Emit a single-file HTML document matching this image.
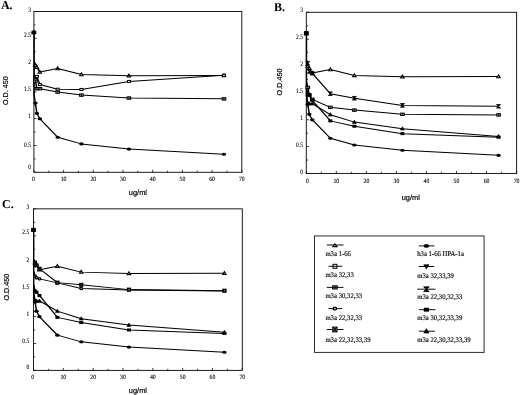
<!DOCTYPE html>
<html lang="en"><head><meta charset="utf-8"><title>Figure</title>
<style>
html,body{margin:0;padding:0;background:#fff;}
body{width:520px;height:395px;overflow:hidden;}
svg{display:block;filter:blur(0.3px);}
text{text-rendering:geometricPrecision;}
.tk{font-family:"Liberation Serif","Times New Roman",serif;font-size:5.9px;fill:#000;stroke:#000;stroke-width:0.12px;}
.ty{font-size:6.8px;}
.tx{font-size:6.5px;}
.let{font-family:"Liberation Serif","Times New Roman",serif;font-weight:bold;font-size:12px;fill:#000;}
.od{font-family:"Liberation Sans",Arial,sans-serif;font-size:7.2px;fill:#000;stroke:#000;stroke-width:0.2px;}
.ug{font-family:"Liberation Sans",Arial,sans-serif;font-size:7.4px;fill:#000;stroke:#000;stroke-width:0.2px;}
.lg{font-family:"Liberation Serif","Times New Roman",serif;font-size:7.1px;fill:#000;stroke:#000;stroke-width:0.15px;}
</style></head><body>
<svg width="520" height="395" viewBox="0 0 520 395">
<rect width="520" height="395" fill="#fff"/>
<g>
<rect x="33.90" y="11.50" width="207.90" height="160.80" fill="none" stroke="#111" stroke-width="0.95"/>
<path d="M33.90 172.30v-2.5M48.75 172.30v-1.6M63.60 172.30v-2.5M78.45 172.30v-1.6M93.30 172.30v-2.5M108.15 172.30v-1.6M123.00 172.30v-2.5M137.85 172.30v-1.6M152.70 172.30v-2.5M167.55 172.30v-1.6M182.40 172.30v-2.5M197.25 172.30v-1.6M212.10 172.30v-2.5M226.95 172.30v-1.6M241.80 172.30v-2.5M33.90 172.30h2.7M33.90 158.90h1.7M33.90 145.50h2.7M33.90 132.10h1.7M33.90 118.70h2.7M33.90 105.30h1.7M33.90 91.90h2.7M33.90 78.50h1.7M33.90 65.10h2.7M33.90 51.70h1.7M33.90 38.30h2.7M33.90 24.90h1.7M33.90 11.50h2.7" stroke="#111" stroke-width="0.8" fill="none"/>
<text transform="translate(33.50,181.30) scale(0.9,1)" class="tk tx" text-anchor="middle">0</text>
<text transform="translate(63.60,181.30) scale(0.9,1)" class="tk tx" text-anchor="middle">10</text>
<text transform="translate(93.30,181.30) scale(0.9,1)" class="tk tx" text-anchor="middle">20</text>
<text transform="translate(123.00,181.30) scale(0.9,1)" class="tk tx" text-anchor="middle">30</text>
<text transform="translate(152.70,181.30) scale(0.9,1)" class="tk tx" text-anchor="middle">40</text>
<text transform="translate(182.40,181.30) scale(0.9,1)" class="tk tx" text-anchor="middle">50</text>
<text transform="translate(212.10,181.30) scale(0.9,1)" class="tk tx" text-anchor="middle">60</text>
<text transform="translate(241.80,181.30) scale(0.9,1)" class="tk tx" text-anchor="middle">70</text>
<text transform="translate(30.90,168.70) scale(0.81,1)" class="tk ty" text-anchor="end">0</text>
<text transform="translate(30.90,147.10) scale(0.81,1)" class="tk ty" text-anchor="end">0.5</text>
<text transform="translate(30.90,117.90) scale(0.81,1)" class="tk ty" text-anchor="end">1</text>
<text transform="translate(30.90,91.40) scale(0.81,1)" class="tk ty" text-anchor="end">1.5</text>
<text transform="translate(30.90,64.20) scale(0.81,1)" class="tk ty" text-anchor="end">2</text>
<text transform="translate(30.90,37.30) scale(0.81,1)" class="tk ty" text-anchor="end">2.5</text>
<text transform="translate(30.90,11.70) scale(0.81,1)" class="tk ty" text-anchor="end">3</text>
<g transform="scale(1,0.7)" fill="none" stroke="#000" stroke-width="1.429" stroke-linejoin="round">
<path d="M34.20 88.33L35.38 93.00L36.87 96.06L39.84 102.95L57.66 97.98L81.42 106.40L128.94 108.31L223.98 107.93"/>
<path d="M34.20 106.94L35.38 113.67L36.87 109.08L39.84 120.80L57.66 127.46L81.42 127.76L128.94 116.35L223.98 107.55"/>
<path d="M34.20 109.00L35.38 115.97L36.87 126.69L39.84 126.69L57.66 131.52L81.42 135.88L128.94 140.09L223.98 141.24"/>
<path d="M34.20 136.98L35.38 147.06L36.87 161.91L39.84 169.72L57.66 195.99L81.42 205.56L128.94 212.99L223.98 220.34"/>
</g>
<path d="M34.10 32.40V95.89" stroke="#000" stroke-width="1.45" fill="none"/>
<path d="M32.20 33.60L35.60 33.60L33.90 30.70Z" fill="#ccc" stroke="#000" stroke-width="1.1" stroke-linejoin="miter"/>
<path d="M33.68 66.30L37.09 66.30L35.38 63.40Z" fill="#ccc" stroke="#000" stroke-width="1.1" stroke-linejoin="miter"/>
<path d="M35.17 68.44L38.57 68.44L36.87 65.54Z" fill="#ccc" stroke="#000" stroke-width="1.1" stroke-linejoin="miter"/>
<path d="M38.14 73.27L41.54 73.27L39.84 70.37Z" fill="#ccc" stroke="#000" stroke-width="1.1" stroke-linejoin="miter"/>
<path d="M55.96 69.78L59.36 69.78L57.66 66.88Z" fill="#ccc" stroke="#000" stroke-width="1.1" stroke-linejoin="miter"/>
<path d="M79.72 75.68L83.12 75.68L81.42 72.78Z" fill="#ccc" stroke="#000" stroke-width="1.1" stroke-linejoin="miter"/>
<path d="M127.24 77.02L130.64 77.02L128.94 74.12Z" fill="#ccc" stroke="#000" stroke-width="1.1" stroke-linejoin="miter"/>
<path d="M222.28 76.75L225.68 76.75L223.98 73.85Z" fill="#ccc" stroke="#000" stroke-width="1.1" stroke-linejoin="miter"/>
<rect x="32.40" y="31.40" width="3.00" height="2.00" fill="#fff" stroke="#000" stroke-width="1.0"/>
<rect x="33.88" y="78.57" width="3.00" height="2.00" fill="#fff" stroke="#000" stroke-width="1.0"/>
<rect x="35.37" y="75.36" width="3.00" height="2.00" fill="#fff" stroke="#000" stroke-width="1.0"/>
<rect x="38.34" y="83.56" width="3.00" height="2.00" fill="#fff" stroke="#000" stroke-width="1.0"/>
<rect x="56.16" y="88.22" width="3.00" height="2.00" fill="#fff" stroke="#000" stroke-width="1.0"/>
<rect x="79.92" y="88.43" width="3.00" height="2.00" fill="#fff" stroke="#000" stroke-width="1.0"/>
<rect x="127.44" y="80.45" width="3.00" height="2.00" fill="#fff" stroke="#000" stroke-width="1.0"/>
<rect x="222.48" y="74.28" width="3.00" height="2.00" fill="#fff" stroke="#000" stroke-width="1.0"/>
<rect x="32.10" y="31.20" width="3.60" height="2.40" fill="#aaa" stroke="#000" stroke-width="1.0"/><path d="M33.90 31.20L33.90 33.60" stroke="#000" stroke-width="0.9" fill="none"/>
<rect x="33.59" y="79.98" width="3.60" height="2.40" fill="#aaa" stroke="#000" stroke-width="1.0"/><path d="M35.38 79.98L35.38 82.38" stroke="#000" stroke-width="0.9" fill="none"/>
<rect x="35.07" y="87.48" width="3.60" height="2.40" fill="#aaa" stroke="#000" stroke-width="1.0"/><path d="M36.87 87.48L36.87 89.88" stroke="#000" stroke-width="0.9" fill="none"/>
<rect x="38.04" y="87.48" width="3.60" height="2.40" fill="#aaa" stroke="#000" stroke-width="1.0"/><path d="M39.84 87.48L39.84 89.88" stroke="#000" stroke-width="0.9" fill="none"/>
<rect x="55.86" y="90.86" width="3.60" height="2.40" fill="#aaa" stroke="#000" stroke-width="1.0"/><path d="M57.66 90.86L57.66 93.26" stroke="#000" stroke-width="0.9" fill="none"/>
<rect x="79.62" y="93.92" width="3.60" height="2.40" fill="#aaa" stroke="#000" stroke-width="1.0"/><path d="M81.42 93.92L81.42 96.32" stroke="#000" stroke-width="0.9" fill="none"/>
<rect x="127.14" y="96.86" width="3.60" height="2.40" fill="#aaa" stroke="#000" stroke-width="1.0"/><path d="M128.94 96.86L128.94 99.26" stroke="#000" stroke-width="0.9" fill="none"/>
<rect x="222.18" y="97.67" width="3.60" height="2.40" fill="#aaa" stroke="#000" stroke-width="1.0"/><path d="M223.98 97.67L223.98 100.07" stroke="#000" stroke-width="0.9" fill="none"/>
<ellipse cx="33.90" cy="32.40" rx="2.25" ry="1.55" fill="#000"/>
<ellipse cx="35.38" cy="102.94" rx="2.25" ry="1.55" fill="#000"/>
<ellipse cx="36.87" cy="113.34" rx="2.25" ry="1.55" fill="#000"/>
<ellipse cx="39.84" cy="118.81" rx="2.25" ry="1.55" fill="#000"/>
<ellipse cx="57.66" cy="137.19" rx="2.25" ry="1.55" fill="#000"/>
<ellipse cx="81.42" cy="143.89" rx="2.25" ry="1.55" fill="#000"/>
<ellipse cx="128.94" cy="149.09" rx="2.25" ry="1.55" fill="#000"/>
<ellipse cx="223.98" cy="154.24" rx="2.25" ry="1.55" fill="#000"/>
<text x="0.9" y="8.5" class="let">A.</text>
<text transform="translate(8.2,90.7) rotate(-90)" class="od" text-anchor="middle">O.D. 450</text>
<text x="137.9" y="195.4" class="ug" text-anchor="middle">ug/ml</text>
</g>
<g>
<rect x="306.30" y="12.30" width="210.30" height="161.15" fill="none" stroke="#111" stroke-width="0.95"/>
<path d="M306.30 173.45v-2.5M321.32 173.45v-1.6M336.34 173.45v-2.5M351.36 173.45v-1.6M366.39 173.45v-2.5M381.41 173.45v-1.6M396.43 173.45v-2.5M411.45 173.45v-1.6M426.47 173.45v-2.5M441.49 173.45v-1.6M456.51 173.45v-2.5M471.54 173.45v-1.6M486.56 173.45v-2.5M501.58 173.45v-1.6M516.60 173.45v-2.5M306.30 173.45h2.7M306.30 160.02h1.7M306.30 146.59h2.7M306.30 133.16h1.7M306.30 119.73h2.7M306.30 106.30h1.7M306.30 92.88h2.7M306.30 79.45h1.7M306.30 66.02h2.7M306.30 52.59h1.7M306.30 39.16h2.7M306.30 25.73h1.7M306.30 12.30h2.7" stroke="#111" stroke-width="0.8" fill="none"/>
<text transform="translate(307.40,183.30) scale(0.9,1)" class="tk tx" text-anchor="middle">0</text>
<text transform="translate(336.34,183.30) scale(0.9,1)" class="tk tx" text-anchor="middle">10</text>
<text transform="translate(366.39,183.30) scale(0.9,1)" class="tk tx" text-anchor="middle">20</text>
<text transform="translate(396.43,183.30) scale(0.9,1)" class="tk tx" text-anchor="middle">30</text>
<text transform="translate(426.47,183.30) scale(0.9,1)" class="tk tx" text-anchor="middle">40</text>
<text transform="translate(456.51,183.30) scale(0.9,1)" class="tk tx" text-anchor="middle">50</text>
<text transform="translate(486.56,183.30) scale(0.9,1)" class="tk tx" text-anchor="middle">60</text>
<text transform="translate(516.60,183.30) scale(0.9,1)" class="tk tx" text-anchor="middle">70</text>
<text transform="translate(303.00,173.65) scale(0.81,1)" class="tk ty" text-anchor="end">0</text>
<text transform="translate(303.00,147.09) scale(0.81,1)" class="tk ty" text-anchor="end">0.5</text>
<text transform="translate(303.00,119.73) scale(0.81,1)" class="tk ty" text-anchor="end">1</text>
<text transform="translate(303.00,93.08) scale(0.81,1)" class="tk ty" text-anchor="end">1.5</text>
<text transform="translate(303.00,65.82) scale(0.81,1)" class="tk ty" text-anchor="end">2</text>
<text transform="translate(303.00,38.66) scale(0.81,1)" class="tk ty" text-anchor="end">2.5</text>
<text transform="translate(303.00,12.00) scale(0.81,1)" class="tk ty" text-anchor="end">3</text>
<g transform="scale(1,0.7)" fill="none" stroke="#000" stroke-width="1.429" stroke-linejoin="round">
<path d="M306.60 89.63L307.80 94.31L309.30 97.38L312.31 104.29L330.33 99.30L354.37 107.74L402.44 109.66L498.57 109.27"/>
<path d="M306.60 86.18L307.80 90.47L309.30 101.98L312.31 104.67L330.33 133.83L354.37 140.35L402.44 150.56L498.57 151.86"/>
<path d="M306.60 117.25L307.80 125.00L309.30 135.36L312.31 141.89L330.33 153.32L354.37 157.31L402.44 163.30L498.57 164.14"/>
<path d="M306.60 137.97L307.80 148.03L309.30 148.03L312.31 148.03L330.33 163.83L354.37 174.42L402.44 183.86L498.57 194.84"/>
<path d="M306.60 126.23L307.80 134.98L309.30 136.52L312.31 143.42L330.33 172.66L354.37 180.33L402.44 190.92L498.57 195.99"/>
<path d="M306.60 138.39L307.80 148.49L309.30 163.37L312.31 171.20L330.33 197.52L354.37 207.11L402.44 214.56L498.57 221.92"/>
</g>
<path d="M306.50 33.25V96.87" stroke="#000" stroke-width="1.45" fill="none"/>
<path d="M304.60 34.45L308.00 34.45L306.30 31.55Z" fill="#ccc" stroke="#000" stroke-width="1.1" stroke-linejoin="miter"/>
<path d="M306.10 67.22L309.50 67.22L307.80 64.32Z" fill="#ccc" stroke="#000" stroke-width="1.1" stroke-linejoin="miter"/>
<path d="M307.60 69.37L311.00 69.37L309.30 66.47Z" fill="#ccc" stroke="#000" stroke-width="1.1" stroke-linejoin="miter"/>
<path d="M310.61 74.20L314.01 74.20L312.31 71.30Z" fill="#ccc" stroke="#000" stroke-width="1.1" stroke-linejoin="miter"/>
<path d="M328.63 70.71L332.03 70.71L330.33 67.81Z" fill="#ccc" stroke="#000" stroke-width="1.1" stroke-linejoin="miter"/>
<path d="M352.67 76.62L356.07 76.62L354.37 73.72Z" fill="#ccc" stroke="#000" stroke-width="1.1" stroke-linejoin="miter"/>
<path d="M400.74 77.96L404.14 77.96L402.44 75.06Z" fill="#ccc" stroke="#000" stroke-width="1.1" stroke-linejoin="miter"/>
<path d="M496.87 77.69L500.27 77.69L498.57 74.79Z" fill="#ccc" stroke="#000" stroke-width="1.1" stroke-linejoin="miter"/>
<path d="M304.30 31.45L308.30 31.45L304.30 35.05L308.30 35.05Z" fill="#000" stroke="#000" stroke-width="0.8" stroke-linejoin="round"/>
<path d="M305.80 61.53L309.80 61.53L305.80 65.13L309.80 65.13Z" fill="#000" stroke="#000" stroke-width="0.8" stroke-linejoin="round"/>
<path d="M307.30 69.59L311.30 69.59L307.30 73.19L311.30 73.19Z" fill="#000" stroke="#000" stroke-width="0.8" stroke-linejoin="round"/>
<path d="M310.31 71.47L314.31 71.47L310.31 75.07L314.31 75.07Z" fill="#000" stroke="#000" stroke-width="0.8" stroke-linejoin="round"/>
<path d="M328.33 91.88L332.33 91.88L328.33 95.48L332.33 95.48Z" fill="#000" stroke="#000" stroke-width="0.8" stroke-linejoin="round"/>
<path d="M352.37 96.45L356.37 96.45L352.37 100.05L356.37 100.05Z" fill="#000" stroke="#000" stroke-width="0.8" stroke-linejoin="round"/>
<path d="M400.44 103.59L404.44 103.59L400.44 107.19L404.44 107.19Z" fill="#000" stroke="#000" stroke-width="0.8" stroke-linejoin="round"/>
<path d="M496.57 104.50L500.57 104.50L496.57 108.10L500.57 108.10Z" fill="#000" stroke="#000" stroke-width="0.8" stroke-linejoin="round"/>
<rect x="304.50" y="32.05" width="3.60" height="2.40" fill="#aaa" stroke="#000" stroke-width="1.0"/><path d="M306.30 32.05L306.30 34.45" stroke="#000" stroke-width="0.9" fill="none"/>
<rect x="306.00" y="86.30" width="3.60" height="2.40" fill="#aaa" stroke="#000" stroke-width="1.0"/><path d="M307.80 86.30L307.80 88.70" stroke="#000" stroke-width="0.9" fill="none"/>
<rect x="307.50" y="93.56" width="3.60" height="2.40" fill="#aaa" stroke="#000" stroke-width="1.0"/><path d="M309.30 93.56L309.30 95.96" stroke="#000" stroke-width="0.9" fill="none"/>
<rect x="310.51" y="98.12" width="3.60" height="2.40" fill="#aaa" stroke="#000" stroke-width="1.0"/><path d="M312.31 98.12L312.31 100.52" stroke="#000" stroke-width="0.9" fill="none"/>
<rect x="328.53" y="106.12" width="3.60" height="2.40" fill="#aaa" stroke="#000" stroke-width="1.0"/><path d="M330.33 106.12L330.33 108.52" stroke="#000" stroke-width="0.9" fill="none"/>
<rect x="352.57" y="108.92" width="3.60" height="2.40" fill="#aaa" stroke="#000" stroke-width="1.0"/><path d="M354.37 108.92L354.37 111.32" stroke="#000" stroke-width="0.9" fill="none"/>
<rect x="400.64" y="113.11" width="3.60" height="2.40" fill="#aaa" stroke="#000" stroke-width="1.0"/><path d="M402.44 113.11L402.44 115.51" stroke="#000" stroke-width="0.9" fill="none"/>
<rect x="496.77" y="113.70" width="3.60" height="2.40" fill="#aaa" stroke="#000" stroke-width="1.0"/><path d="M498.57 113.70L498.57 116.10" stroke="#000" stroke-width="0.9" fill="none"/>
<path d="M304.30 34.65L308.30 34.65L306.30 31.25Z" fill="#000" stroke="#000" stroke-width="0.6"/>
<path d="M305.80 105.02L309.80 105.02L307.80 101.62Z" fill="#000" stroke="#000" stroke-width="0.6"/>
<path d="M307.30 105.02L311.30 105.02L309.30 101.62Z" fill="#000" stroke="#000" stroke-width="0.6"/>
<path d="M310.31 105.02L314.31 105.02L312.31 101.62Z" fill="#000" stroke="#000" stroke-width="0.6"/>
<path d="M328.33 116.08L332.33 116.08L330.33 112.68Z" fill="#000" stroke="#000" stroke-width="0.6"/>
<path d="M352.37 123.50L356.37 123.50L354.37 120.10Z" fill="#000" stroke="#000" stroke-width="0.6"/>
<path d="M400.44 130.10L404.44 130.10L402.44 126.70Z" fill="#000" stroke="#000" stroke-width="0.6"/>
<path d="M496.57 137.79L500.57 137.79L498.57 134.39Z" fill="#000" stroke="#000" stroke-width="0.6"/>
<rect x="304.30" y="31.75" width="4.00" height="3.00" fill="#000"/>
<rect x="305.80" y="92.99" width="4.00" height="3.00" fill="#000"/>
<rect x="307.30" y="94.06" width="4.00" height="3.00" fill="#000"/>
<rect x="310.31" y="98.90" width="4.00" height="3.00" fill="#000"/>
<rect x="328.33" y="119.36" width="4.00" height="3.00" fill="#000"/>
<rect x="352.37" y="124.73" width="4.00" height="3.00" fill="#000"/>
<rect x="400.44" y="132.15" width="4.00" height="3.00" fill="#000"/>
<rect x="496.57" y="135.69" width="4.00" height="3.00" fill="#000"/>
<ellipse cx="306.30" cy="33.25" rx="2.25" ry="1.55" fill="#000"/>
<ellipse cx="307.80" cy="103.94" rx="2.25" ry="1.55" fill="#000"/>
<ellipse cx="309.30" cy="114.36" rx="2.25" ry="1.55" fill="#000"/>
<ellipse cx="312.31" cy="119.84" rx="2.25" ry="1.55" fill="#000"/>
<ellipse cx="330.33" cy="138.27" rx="2.25" ry="1.55" fill="#000"/>
<ellipse cx="354.37" cy="144.98" rx="2.25" ry="1.55" fill="#000"/>
<ellipse cx="402.44" cy="150.19" rx="2.25" ry="1.55" fill="#000"/>
<ellipse cx="498.57" cy="155.35" rx="2.25" ry="1.55" fill="#000"/>
<text x="274.1" y="10.5" class="let">B.</text>
<text transform="translate(281.7,82) rotate(-90)" class="od" text-anchor="middle">O.D.450</text>
<text x="410.8" y="199.5" class="ug" text-anchor="middle">ug/ml</text>
</g>
<g>
<rect x="33.50" y="208.85" width="208.80" height="161.55" fill="none" stroke="#111" stroke-width="0.95"/>
<path d="M33.50 370.40v-2.5M48.41 370.40v-1.6M63.33 370.40v-2.5M78.24 370.40v-1.6M93.16 370.40v-2.5M108.07 370.40v-1.6M122.99 370.40v-2.5M137.90 370.40v-1.6M152.81 370.40v-2.5M167.73 370.40v-1.6M182.64 370.40v-2.5M197.56 370.40v-1.6M212.47 370.40v-2.5M227.39 370.40v-1.6M242.30 370.40v-2.5M33.50 370.40h2.7M33.50 356.94h1.7M33.50 343.47h2.7M33.50 330.01h1.7M33.50 316.55h2.7M33.50 303.09h1.7M33.50 289.62h2.7M33.50 276.16h1.7M33.50 262.70h2.7M33.50 249.24h1.7M33.50 235.77h2.7M33.50 222.31h1.7M33.50 208.85h2.7" stroke="#111" stroke-width="0.8" fill="none"/>
<text transform="translate(32.60,379.20) scale(0.9,1)" class="tk tx" text-anchor="middle">0</text>
<text transform="translate(63.33,379.20) scale(0.9,1)" class="tk tx" text-anchor="middle">10</text>
<text transform="translate(93.16,379.20) scale(0.9,1)" class="tk tx" text-anchor="middle">20</text>
<text transform="translate(122.99,379.20) scale(0.9,1)" class="tk tx" text-anchor="middle">30</text>
<text transform="translate(152.81,379.20) scale(0.9,1)" class="tk tx" text-anchor="middle">40</text>
<text transform="translate(182.64,379.20) scale(0.9,1)" class="tk tx" text-anchor="middle">50</text>
<text transform="translate(212.47,379.20) scale(0.9,1)" class="tk tx" text-anchor="middle">60</text>
<text transform="translate(242.30,379.20) scale(0.9,1)" class="tk tx" text-anchor="middle">70</text>
<text transform="translate(29.20,369.20) scale(0.81,1)" class="tk ty" text-anchor="end">0</text>
<text transform="translate(29.20,342.57) scale(0.81,1)" class="tk ty" text-anchor="end">0.5</text>
<text transform="translate(29.20,315.75) scale(0.81,1)" class="tk ty" text-anchor="end">1</text>
<text transform="translate(29.20,288.72) scale(0.81,1)" class="tk ty" text-anchor="end">1.5</text>
<text transform="translate(29.20,262.10) scale(0.81,1)" class="tk ty" text-anchor="end">2</text>
<text transform="translate(29.20,234.47) scale(0.81,1)" class="tk ty" text-anchor="end">2.5</text>
<text transform="translate(29.20,208.75) scale(0.81,1)" class="tk ty" text-anchor="end">3</text>
<g transform="scale(1,0.7)" fill="none" stroke="#000" stroke-width="1.429" stroke-linejoin="round">
<path d="M33.80 370.59L34.99 375.29L36.48 378.36L39.47 385.29L57.36 380.29L81.23 388.75L128.95 390.67L224.40 390.29"/>
<path d="M33.80 370.59L34.99 375.29L36.48 379.13L39.47 383.90L57.36 403.75L81.23 406.83L128.95 413.75L224.40 415.29"/>
<path d="M33.80 387.90L34.99 394.52L36.48 396.83L39.47 398.36L57.36 404.13L81.23 412.21L128.95 414.13L224.40 415.67"/>
<path d="M33.80 420.44L34.99 430.67L36.48 429.90L39.47 429.90L57.36 444.52L81.23 455.29L128.95 464.37L224.40 474.68"/>
<path d="M33.80 407.29L34.99 416.06L36.48 417.60L39.47 422.21L57.36 453.37L81.23 460.83L128.95 471.37L224.40 476.37"/>
<path d="M33.80 419.47L34.99 429.60L36.48 444.52L39.47 452.37L57.36 478.75L81.23 488.37L128.95 495.83L224.40 503.22"/>
</g>
<path d="M33.70 229.85V294.31" stroke="#000" stroke-width="1.45" fill="none"/>
<path d="M31.80 231.05L35.20 231.05L33.50 228.15Z" fill="#ccc" stroke="#000" stroke-width="1.1" stroke-linejoin="miter"/>
<path d="M33.29 263.90L36.69 263.90L34.99 261.00Z" fill="#ccc" stroke="#000" stroke-width="1.1" stroke-linejoin="miter"/>
<path d="M34.78 266.05L38.18 266.05L36.48 263.15Z" fill="#ccc" stroke="#000" stroke-width="1.1" stroke-linejoin="miter"/>
<path d="M37.77 270.90L41.17 270.90L39.47 268.00Z" fill="#ccc" stroke="#000" stroke-width="1.1" stroke-linejoin="miter"/>
<path d="M55.66 267.40L59.06 267.40L57.36 264.50Z" fill="#ccc" stroke="#000" stroke-width="1.1" stroke-linejoin="miter"/>
<path d="M79.53 273.32L82.93 273.32L81.23 270.42Z" fill="#ccc" stroke="#000" stroke-width="1.1" stroke-linejoin="miter"/>
<path d="M127.25 274.67L130.65 274.67L128.95 271.77Z" fill="#ccc" stroke="#000" stroke-width="1.1" stroke-linejoin="miter"/>
<path d="M222.70 274.40L226.10 274.40L224.40 271.50Z" fill="#ccc" stroke="#000" stroke-width="1.1" stroke-linejoin="miter"/>
<rect x="31.90" y="228.35" width="3.20" height="3.00" fill="#bbb" stroke="#000" stroke-width="1.0"/><path d="M31.90 228.35L35.10 231.35M35.10 228.35L31.90 231.35" stroke="#000" stroke-width="1.1" fill="none"/>
<rect x="33.39" y="261.20" width="3.20" height="3.00" fill="#bbb" stroke="#000" stroke-width="1.0"/><path d="M33.39 261.20L36.59 264.20M36.59 261.20L33.39 264.20" stroke="#000" stroke-width="1.1" fill="none"/>
<rect x="34.88" y="263.89" width="3.20" height="3.00" fill="#bbb" stroke="#000" stroke-width="1.0"/><path d="M34.88 263.89L38.08 266.89M38.08 263.89L34.88 266.89" stroke="#000" stroke-width="1.1" fill="none"/>
<rect x="37.87" y="267.23" width="3.20" height="3.00" fill="#bbb" stroke="#000" stroke-width="1.0"/><path d="M37.87 267.23L41.07 270.23M41.07 267.23L37.87 270.23" stroke="#000" stroke-width="1.1" fill="none"/>
<rect x="55.76" y="281.12" width="3.20" height="3.00" fill="#bbb" stroke="#000" stroke-width="1.0"/><path d="M55.76 281.12L58.96 284.12M58.96 281.12L55.76 284.12" stroke="#000" stroke-width="1.1" fill="none"/>
<rect x="79.63" y="283.28" width="3.20" height="3.00" fill="#bbb" stroke="#000" stroke-width="1.0"/><path d="M79.63 283.28L82.83 286.28M82.83 283.28L79.63 286.28" stroke="#000" stroke-width="1.1" fill="none"/>
<rect x="127.35" y="288.12" width="3.20" height="3.00" fill="#bbb" stroke="#000" stroke-width="1.0"/><path d="M127.35 288.12L130.55 291.12M130.55 288.12L127.35 291.12" stroke="#000" stroke-width="1.1" fill="none"/>
<rect x="222.80" y="289.20" width="3.20" height="3.00" fill="#bbb" stroke="#000" stroke-width="1.0"/><path d="M222.80 289.20L226.00 292.20M226.00 289.20L222.80 292.20" stroke="#000" stroke-width="1.1" fill="none"/>
<rect x="32.20" y="228.85" width="2.60" height="2.00" rx="0.8" fill="#ddd" stroke="#000" stroke-width="1.3"/>
<rect x="33.69" y="275.16" width="2.60" height="2.00" rx="0.8" fill="#ddd" stroke="#000" stroke-width="1.3"/>
<rect x="35.18" y="276.78" width="2.60" height="2.00" rx="0.8" fill="#ddd" stroke="#000" stroke-width="1.3"/>
<rect x="38.17" y="277.86" width="2.60" height="2.00" rx="0.8" fill="#ddd" stroke="#000" stroke-width="1.3"/>
<rect x="56.06" y="281.89" width="2.60" height="2.00" rx="0.8" fill="#ddd" stroke="#000" stroke-width="1.3"/>
<rect x="79.93" y="287.55" width="2.60" height="2.00" rx="0.8" fill="#ddd" stroke="#000" stroke-width="1.3"/>
<rect x="127.65" y="288.89" width="2.60" height="2.00" rx="0.8" fill="#ddd" stroke="#000" stroke-width="1.3"/>
<rect x="223.10" y="289.97" width="2.60" height="2.00" rx="0.8" fill="#ddd" stroke="#000" stroke-width="1.3"/>
<path d="M31.50 231.25L35.50 231.25L33.50 227.85Z" fill="#000" stroke="#000" stroke-width="0.6"/>
<path d="M32.99 302.87L36.99 302.87L34.99 299.47Z" fill="#000" stroke="#000" stroke-width="0.6"/>
<path d="M34.48 302.33L38.48 302.33L36.48 298.93Z" fill="#000" stroke="#000" stroke-width="0.6"/>
<path d="M37.47 302.33L41.47 302.33L39.47 298.93Z" fill="#000" stroke="#000" stroke-width="0.6"/>
<path d="M55.36 312.56L59.36 312.56L57.36 309.16Z" fill="#000" stroke="#000" stroke-width="0.6"/>
<path d="M79.23 320.10L83.23 320.10L81.23 316.70Z" fill="#000" stroke="#000" stroke-width="0.6"/>
<path d="M126.95 326.46L130.95 326.46L128.95 323.06Z" fill="#000" stroke="#000" stroke-width="0.6"/>
<path d="M222.40 333.67L226.40 333.67L224.40 330.27Z" fill="#000" stroke="#000" stroke-width="0.6"/>
<rect x="31.50" y="228.35" width="4.00" height="3.00" fill="#000"/>
<rect x="32.99" y="289.74" width="4.00" height="3.00" fill="#000"/>
<rect x="34.48" y="290.82" width="4.00" height="3.00" fill="#000"/>
<rect x="37.47" y="294.05" width="4.00" height="3.00" fill="#000"/>
<rect x="55.36" y="315.86" width="4.00" height="3.00" fill="#000"/>
<rect x="79.23" y="321.08" width="4.00" height="3.00" fill="#000"/>
<rect x="126.95" y="328.46" width="4.00" height="3.00" fill="#000"/>
<rect x="222.40" y="331.96" width="4.00" height="3.00" fill="#000"/>
<ellipse cx="33.50" cy="229.85" rx="2.25" ry="1.55" fill="#000"/>
<ellipse cx="34.99" cy="300.72" rx="2.25" ry="1.55" fill="#000"/>
<ellipse cx="36.48" cy="311.16" rx="2.25" ry="1.55" fill="#000"/>
<ellipse cx="39.47" cy="316.66" rx="2.25" ry="1.55" fill="#000"/>
<ellipse cx="57.36" cy="335.13" rx="2.25" ry="1.55" fill="#000"/>
<ellipse cx="81.23" cy="341.86" rx="2.25" ry="1.55" fill="#000"/>
<ellipse cx="128.95" cy="347.08" rx="2.25" ry="1.55" fill="#000"/>
<ellipse cx="224.40" cy="352.25" rx="2.25" ry="1.55" fill="#000"/>
<text x="2.0" y="208.1" class="let">C.</text>
<text transform="translate(9.4,287.1) rotate(-90)" class="od" text-anchor="middle">O.D.450</text>
<text x="137.9" y="392.7" class="ug" text-anchor="middle">ug/ml</text>
</g>
<rect x="314.5" y="235.95" width="169.55" height="116.45" fill="none" stroke="#222" stroke-width="0.95"/>
<path d="M326.8 245H343.5" stroke="#000" stroke-width="0.95"/>
<path d="M332.77 246.64L337.02 246.64L334.90 243.88Z" fill="#ccc" stroke="#000" stroke-width="1.1" stroke-linejoin="miter"/>
<text transform="translate(325.4,255.8) scale(0.946,1)" class="lg">m3a 1-66</text>
<rect x="332.95" y="264.30" width="3.90" height="4.00" fill="#fff" stroke="#000" stroke-width="1.0"/>
<path d="M328.5 266.3H342.2" stroke="#000" stroke-width="0.95"/>
<text transform="translate(325.4,277.2) scale(0.946,1)" class="lg">m3a 32,33</text>
<rect x="332.56" y="285.80" width="4.68" height="3.19" fill="#aaa" stroke="#000" stroke-width="1.0"/><path d="M334.90 285.80L334.90 289.00" stroke="#000" stroke-width="0.9" fill="none"/>
<path d="M326.8 287.4H343.5" stroke="#000" stroke-width="0.95"/>
<text transform="translate(325.4,298.4) scale(0.946,1)" class="lg">m3a 30,32,33</text>
<path d="M328.5 308.6H342.2" stroke="#000" stroke-width="0.95"/>
<rect x="333.40" y="307.30" width="2.99" height="2.60" rx="0.8" fill="#ddd" stroke="#000" stroke-width="1.3"/>
<text transform="translate(325.4,319.9) scale(0.946,1)" class="lg">m3a 22,32,33</text>
<path d="M326.8 329.5H343.5" stroke="#000" stroke-width="0.95"/>
<rect x="332.82" y="327.10" width="4.16" height="4.80" fill="#bbb" stroke="#000" stroke-width="1.0"/><path d="M332.82 327.10L336.98 331.90M336.98 327.10L332.82 331.90" stroke="#000" stroke-width="1.1" fill="none"/>
<text transform="translate(325.4,341.5) scale(0.946,1)" class="lg">m3a 22,32,33,39</text>
<path d="M418.9 245.9H434.4" stroke="#000" stroke-width="0.95"/>
<ellipse cx="426.40" cy="245.90" rx="2.70" ry="1.94" fill="#000"/>
<text transform="translate(417.2,256.1) scale(0.946,1)" class="lg">h3a 1-66 HPA-1a</text>
<path d="M418.9 266.5H434.4" stroke="#000" stroke-width="0.95"/>
<path d="M423.80 264.68L429.00 264.68L426.40 269.10Z" fill="#000" stroke="#000" stroke-width="0.6"/>
<text transform="translate(417.2,277.9) scale(0.946,1)" class="lg">m3a 32,33,39</text>
<path d="M417.2 289.2H435.5" stroke="#000" stroke-width="0.95"/>
<path d="M423.60 286.86L429.20 286.86L423.60 291.54L429.20 291.54Z" fill="#000" stroke="#000" stroke-width="0.8" stroke-linejoin="round"/>
<text transform="translate(417.2,299.4) scale(0.946,1)" class="lg">m3a 22,30,32,33</text>
<path d="M418.9 309.7H435.5" stroke="#000" stroke-width="0.95"/>
<rect x="423.80" y="307.75" width="5.20" height="3.90" fill="#000"/>
<text transform="translate(417.2,319.9) scale(0.946,1)" class="lg">m3a 30,32,33,39</text>
<path d="M418.9 331.2H434.9" stroke="#000" stroke-width="0.95"/>
<path d="M423.80 333.02L429.00 333.02L426.40 328.60Z" fill="#000" stroke="#000" stroke-width="0.6"/>
<text transform="translate(417.2,341.5) scale(0.946,1)" class="lg">m3a 22,30,32,33,39</text>
</svg></body></html>
